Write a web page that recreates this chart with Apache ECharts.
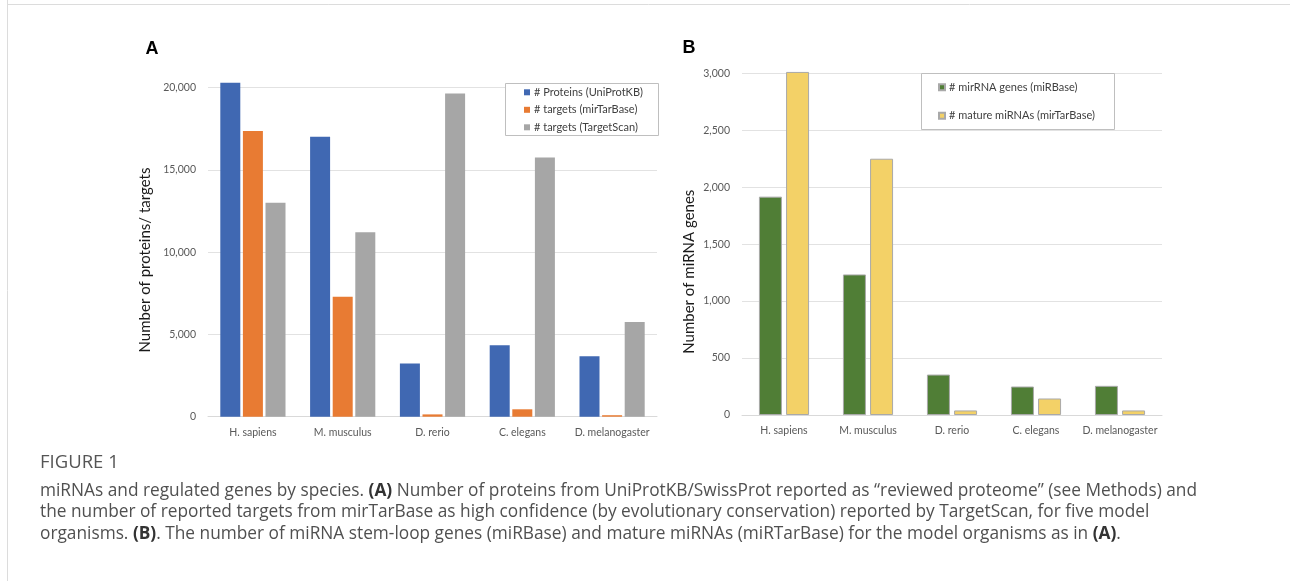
<!DOCTYPE html>
<html><head><meta charset="utf-8">
<script src="https://cdn.jsdelivr.net/npm/echarts@6/dist/echarts.min.js"></script>
<style>html,body{margin:0;padding:0;background:#fff}#c{width:1290px;height:581px}</style>
</head><body><div id="c"></div>
<script>
const categories = ['H. sapiens', 'M. musculus', 'D. rerio', 'C. elegans', 'D. melanogaster'];
const proteinsUniProt = [20300, 17020, 3240, 4340, 3670];
const targetsMirTarBase = [17370, 7290, 140, 450, 90];
const targetsTargetScan = [13000, 11210, 19640, 15750, 5750];
const mirnaGenesMiRBase = [1917, 1234, 355, 250, 256];
const matureMirnasMirTarBase = [3012, 2250, 40, 145, 40];
const namesA = ['# Proteins (UniProtKB)', '# targets (mirTarBase)', '# targets (TargetScan)'];
const namesB = ['# mirRNA genes (miRBase)', '# mature miRNAs (mirTarBase)'];

const chart = echarts.init(document.getElementById('c'), null, {renderer: 'canvas'});
const fmt = v => v.toLocaleString('en-US');
const FF = 'Lato';
const catAxis = (gi) => ({
  type: 'category', gridIndex: gi, data: categories,
  axisLine: {lineStyle: {color: '#d9d9d9', width: 1}},
  axisTick: {show: false},
  axisLabel: {color: '#595959', fontSize: 10.5, fontFamily: FF, margin: 10, interval: 0}
});
const valAxis = (gi, max, interval) => ({
  type: 'value', gridIndex: gi, min: 0, max: max, interval: interval,
  axisLine: {show: false}, axisTick: {show: false},
  splitLine: {lineStyle: {color: '#e2e2e2', width: 1}},
  axisLabel: {formatter: fmt, color: '#595959', fontSize: 10.5, fontFamily: FF, margin: 12}
});
const barA = (name, data, color) => ({
  type: 'bar', name: name, data: data, xAxisIndex: 0, yAxisIndex: 0,
  barWidth: 20, barGap: '13%', clip: false,
  itemStyle: {color: color}
});
const barB = (name, data, color) => ({
  type: 'bar', name: name, data: data, xAxisIndex: 1, yAxisIndex: 1,
  barWidth: 23, barGap: '18%', clip: false,
  itemStyle: {color: color, borderColor: '#a9a9a9', borderWidth: 1}
});
const capStyle = {fontFamily: 'Open Sans', fontSize: 17.3, fill: '#505050'};
const rich = {b: {fontFamily: 'Open Sans', fontSize: 17.3, fontWeight: 'bold', fill: '#333', color: '#333'}};
const option = {
  animation: false,
  textStyle: {fontFamily: FF},
  grid: [
    {left: 208, right: 633, top: 87.7, bottom: 164.3},
    {left: 742, right: 128, top: 73.3, bottom: 166}
  ],
  xAxis: [catAxis(0), catAxis(1)],
  yAxis: [valAxis(0, 20000, 5000), valAxis(1, 3000, 500)],
  legend: [
    {data: namesA, orient: 'vertical', left: 524, top: 85.3, padding: 0, itemGap: 3.5,
     itemWidth: 6, itemHeight: 6, icon: 'rect', selectedMode: false,
     textStyle: {fontSize: 11, fontFamily: FF, color: '#404040', lineHeight: 14, padding: [0, 0, 0, -1]}},
    {data: namesB, orient: 'vertical', left: 938, top: 80.3, padding: 0, itemGap: 14.4,
     itemWidth: 6, itemHeight: 6, icon: 'rect', selectedMode: false,
     textStyle: {fontSize: 11, fontFamily: FF, color: '#404040', lineHeight: 14, padding: [0, 0, 0, -1]}}
  ],
  series: [
    barA(namesA[0], proteinsUniProt, '#4068b2'),
    barA(namesA[1], targetsMirTarBase, '#e87b33'),
    barA(namesA[2], targetsTargetScan, '#a6a6a6'),
    barB(namesB[0], mirnaGenesMiRBase, '#507e36'),
    barB(namesB[1], matureMirnasMirTarBase, '#f3d167')
  ],
  graphic: [
    {type: 'line', shape: {x1: 7.5, y1: 0, x2: 7.5, y2: 581}, style: {stroke: '#dcdcdc', lineWidth: 1}, silent: true},
    {type: 'line', shape: {x1: 7.5, y1: 4.5, x2: 1290, y2: 4.5}, style: {stroke: '#dcdcdc', lineWidth: 1}, silent: true},
    {type: 'rect', z: 3, shape: {x: 505.5, y: 83.5, width: 153, height: 52}, style: {fill: '#fff', stroke: '#bfbfbf', lineWidth: 1}, silent: true},
    {type: 'rect', z: 3, shape: {x: 921.5, y: 73.5, width: 193, height: 56}, style: {fill: '#fff', stroke: '#bfbfbf', lineWidth: 1}, silent: true},
    {type: 'text', x: 152, y: 49, style: {text: 'A', font: 'bold 18px "Liberation Sans"', fill: '#000', align: 'center', verticalAlign: 'middle'}},
    {type: 'text', x: 689, y: 48, style: {text: 'B', font: 'bold 18px "Liberation Sans"', fill: '#000', align: 'center', verticalAlign: 'middle'}},
    {type: 'text', x: 145, y: 260, rotation: Math.PI / 2, style: {text: 'Number of proteins/ targets', fontFamily: FF, fontSize: 15, fill: '#1a1a1a', align: 'center', verticalAlign: 'middle'}},
    {type: 'text', x: 689, y: 271.7, rotation: Math.PI / 2, style: {text: 'Number of miRNA genes', fontFamily: FF, fontSize: 15, fill: '#1a1a1a', align: 'center', verticalAlign: 'middle'}},
    {type: 'text', x: 40, y: 463, style: {text: 'FIGURE 1', fontFamily: 'Open Sans', fontSize: 18.5, fill: '#555', verticalAlign: 'middle'}},
    {type: 'text', x: 40, y: 491, style: Object.assign({text: 'miRNAs and regulated genes by species. {b|(A)} Number of proteins from UniProtKB/SwissProt reported as \u201creviewed proteome\u201d (see Methods) and', rich: rich, verticalAlign: 'middle'}, capStyle)},
    {type: 'text', x: 40, y: 512.5, style: Object.assign({text: 'the number of reported targets from mirTarBase as high confidence (by evolutionary conservation) reported by TargetScan, for five model', rich: rich, verticalAlign: 'middle'}, capStyle)},
    {type: 'text', x: 40, y: 534, style: Object.assign({text: 'organisms. {b|(B)}. The number of miRNA stem-loop genes (miRBase) and mature miRNAs (miRTarBase) for the model organisms as in {b|(A)}.', rich: rich, verticalAlign: 'middle'}, capStyle)}
  ]
};
chart.setOption(option);
</script>
</body></html>
